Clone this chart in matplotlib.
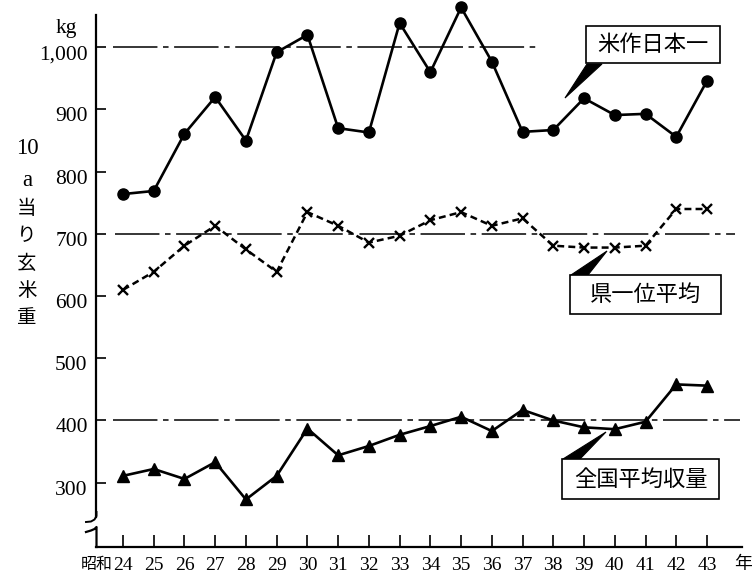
import matplotlib
matplotlib.use("Agg")
import matplotlib.pyplot as plt
from matplotlib.patches import Polygon, Rectangle
from matplotlib.transforms import Affine2D, ScaledTranslation
import numpy as np

plt.rcParams['lines.scale_dashes'] = False

# ---- data ----
years = list(range(24, 44))
year_labels = [str(y) for y in years]
top_champion = [764, 769, 861, 920, 850, 992, 1020, 870, 863, 1039,
                960, 1064, 977, 864, 867, 918, 891, 893, 856, 946]
pref_top_avg = [610, 639, 681, 713, 675, 639, 735, 713, 686, 697,
                722, 735, 713, 725, 681, 678, 678, 681, 740, 740]
national_avg = [311, 322, 306, 333, 273, 311, 387, 344, 359, 377,
                391, 406, 383, 417, 400, 389, 386, 398, 458, 456]
y_ticks = [300, 400, 500, 600, 700, 800, 900, 1000]
y_tick_labels = ["300", "400", "500", "600", "700", "800", "900", "1,000"]
ref_levels = [1000, 700, 400]
ref_starts = [23.67, 23.74, 23.67]
ref_ends = [37.47, 43.9, 44.06]
callout_texts = ["米作日本一", "県一位平均", "全国平均収量"]
ylabel_chars = ["10", "a", "当", "り", "玄", "米", "重"]

W, H = 752, 578
fig = plt.figure(figsize=(W / 100, H / 100), dpi=100)
px = Affine2D().scale(1 / W, -1 / H).translate(0, 1) + fig.transFigure

ax = fig.add_axes([96 / W, 1 - 547 / H, (742 - 96) / W, (547 - 15) / H])
ax.set_xlim(23.122, 44.139)
ax.set_ylim(196.6, 1051.9)
ax.patch.set_alpha(0)

for s in ['top', 'right']:
    ax.spines[s].set_visible(False)
ax.spines['left'].set_bounds(245, 1051.9)
ax.spines['left'].set_linewidth(1.6)
ax.spines['bottom'].set_linewidth(1.6)

serif = ['Liberation Serif', 'DejaVu Serif']
cjk = ['Noto Sans CJK JP', 'DejaVu Sans']

ax.set_yticks(y_ticks)
ax.set_yticklabels(y_tick_labels, fontfamily=serif, fontsize=15.5)
ax.set_xticks(years)
ax.set_xticklabels(year_labels, fontfamily=serif, fontsize=14)
ax.tick_params(axis='y', direction='in', length=7, width=1.2, pad=6)
ax.tick_params(axis='x', direction='in', length=9, width=1.2, pad=7)
shift = ScaledTranslation(0, -0.05, fig.dpi_scale_trans)
for lab in ax.get_yticklabels():
    lab.set_transform(lab.get_transform() + shift)

# reference dash-dot lines
for lvl, x0, x1 in zip(ref_levels, ref_starts, ref_ends):
    ax.plot([x0, x1], [lvl, lvl], color='black', lw=1.1,
            linestyle=(0, (32, 4, 4, 4)), clip_on=False)

# series
ax.plot(years, top_champion, color='black', lw=1.9, marker='o', ms=8,
        clip_on=False, zorder=3)
ax.plot(years, pref_top_avg, color='black', lw=1.8, linestyle=(0, (5, 3)),
        marker='x', ms=6.5, mew=1.7, clip_on=False, zorder=3)
ax.plot(years, national_avg, color='black', lw=1.9, marker='^', ms=8.5,
        clip_on=False, zorder=3)

# axis break and lower axis segment (pixel coords)
fig.add_artist(plt.Line2D([96.5, 96.5, 94.5, 91, 86], [512, 516, 519.5, 521.5, 522],
                          transform=px, color='black', lw=1.4))
fig.add_artist(plt.Line2D([86, 91, 94.5, 96.5, 96.5], [532, 530.5, 529, 527, 547],
                          transform=px, color='black', lw=1.6))

# axis texts
fig.text(66, 29, "kg", transform=px, fontfamily=serif, fontsize=15.5,
         ha='center', va='center')
ly = [149, 181, 208, 236, 263, 290, 317]
for ch, yy in zip(ylabel_chars, ly):
    fam = serif if ch in ("10", "a") else cjk
    fs = 16.5 if ch in ("10", "a") else 14
    fig.text(27, yy, ch, transform=px, fontfamily=fam, fontsize=fs,
             ha='center', va='center')
fig.text(113, 564, "昭和", transform=px, fontfamily=cjk, fontsize=11.5,
         ha='right', va='center')
fig.text(743, 564, "年", transform=px, fontfamily=cjk, fontsize=13,
         ha='center', va='center')

# callouts (pixel coords)
boxes = [(586, 26, 720, 63), (570, 275, 721, 314), (562, 459, 719, 499)]
wedges = [[(587, 64), (602, 64), (565, 98)],
          [(571, 275), (588, 275), (607, 251)],
          [(563, 459), (580, 459), (606, 432)]]
for txt, (x0, y0, x1, y1), wd in zip(callout_texts, boxes, wedges):
    fig.add_artist(Polygon(wd, closed=True, transform=px, facecolor='black',
                           edgecolor='black', lw=0.8))
    fig.add_artist(Rectangle((x0, y0), x1 - x0, y1 - y0, transform=px,
                             facecolor='white', edgecolor='black', lw=1.2))
    fig.text((x0 + x1) / 2, (y0 + y1) / 2, txt, transform=px, fontfamily=cjk,
             fontsize=16, ha='center', va='center')

fig.savefig("out.png", dpi=100, facecolor='white')
